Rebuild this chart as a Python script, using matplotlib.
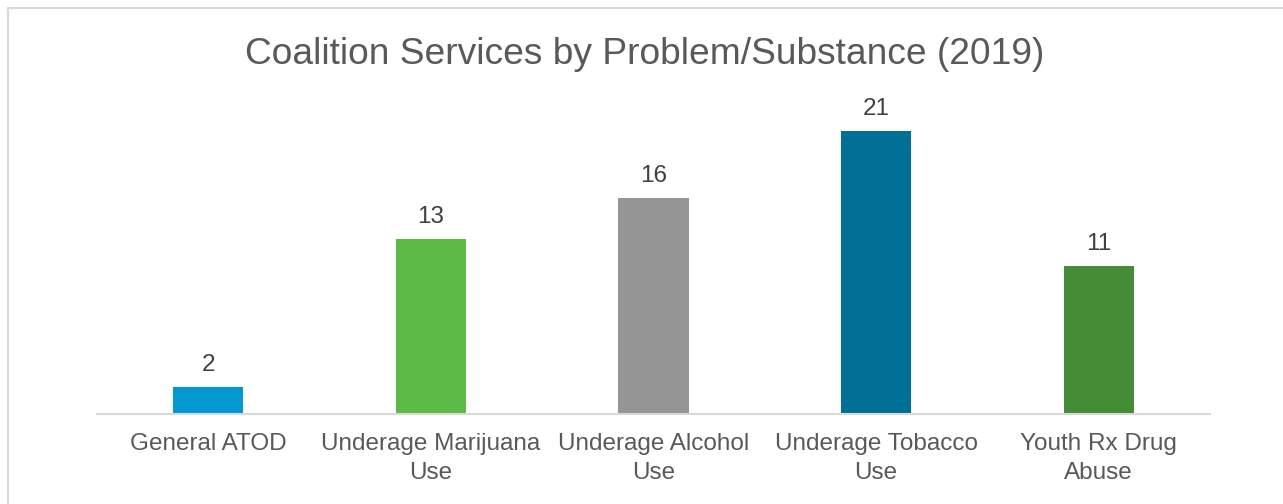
import matplotlib
matplotlib.use("Agg")
import matplotlib.pyplot as plt
from matplotlib.lines import Line2D

categories = ["General ATOD", "Underage Marijuana\nUse", "Underage Alcohol\nUse",
              "Underage Tobacco\nUse", "Youth Rx Drug\nAbuse"]
counts = [2, 13, 16, 21, 11]
colors = ["#0399D0", "#5CBA47", "#959595", "#006F96", "#458C36"]

plt.rcParams["font.family"] = ["Liberation Sans", "DejaVu Sans"]

fig = plt.figure(figsize=(12.83, 5.04), dpi=100)
ax = fig.add_axes([97 / 1283, 90 / 504, 1113 / 1283, 323.5 / 504])

x = list(range(len(categories)))
bars = ax.bar(x, counts, width=0.315, color=colors, zorder=2)

for b, v in zip(bars, counts):
    ax.annotate(str(v), (b.get_x() + b.get_width() / 2, v),
                xytext=(0, 8), textcoords="offset points",
                ha="center", va="bottom", fontsize=17.5, color="#404040")

ax.set_xlim(-0.5, len(categories) - 0.5)
ax.set_ylim(0, 24)
ax.set_xticks(x)
ax.set_xticklabels(categories, fontsize=17.5, color="#595959", linespacing=1.38)
ax.tick_params(axis="x", length=0, pad=14)
ax.set_yticks([])

for side in ("top", "right", "left"):
    ax.spines[side].set_visible(False)
ax.spines["bottom"].set_color("#D9D9D9")
ax.spines["bottom"].set_linewidth(1.5)

fig.text(645 / 1283, 1 - 54 / 504, "Coalition Services by Problem/Substance (2019)",
         ha="center", va="center", fontsize=26.7, color="#595959")

# chart-area frame (only top and left edges fall inside the image)
fig.add_artist(Line2D([7.5 / 1283, 1], [1 - 7.5 / 504, 1 - 7.5 / 504],
                      transform=fig.transFigure, color="#D9D9D9", lw=1.5))
fig.add_artist(Line2D([7.5 / 1283, 7.5 / 1283], [0, 1 - 7.5 / 504],
                      transform=fig.transFigure, color="#D9D9D9", lw=1.5))

fig.savefig("out.png", dpi=100, facecolor="white")
